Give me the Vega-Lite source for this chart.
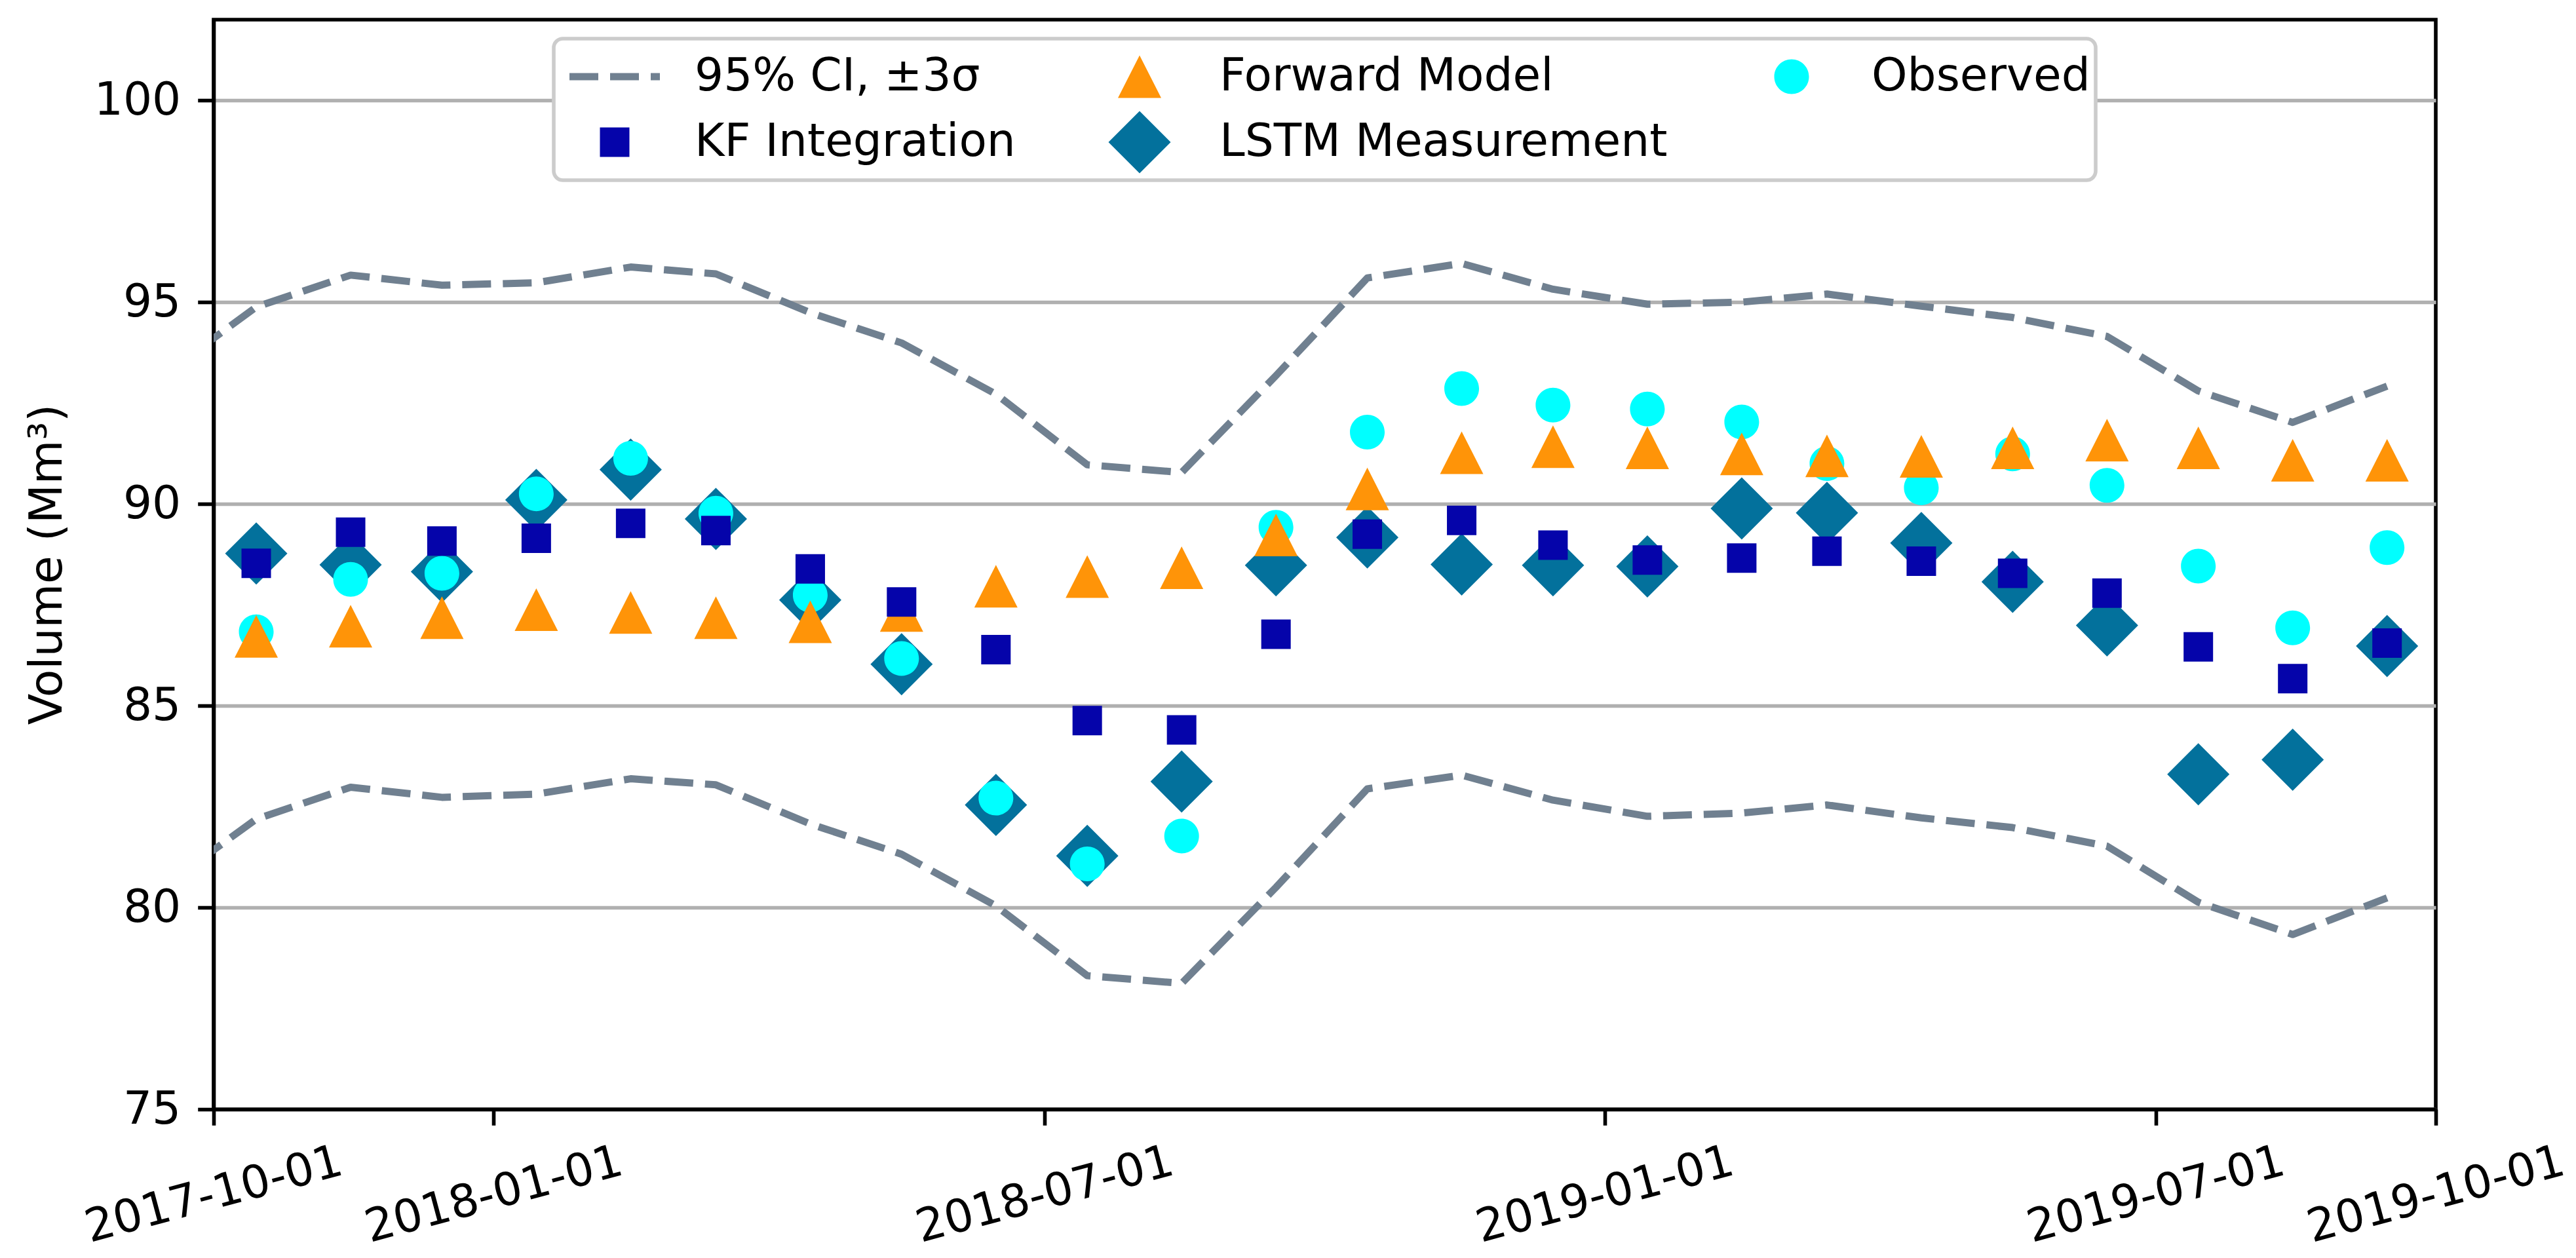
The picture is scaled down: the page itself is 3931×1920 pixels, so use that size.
{
  "$schema": "https://vega.github.io/schema/vega-lite/v6.json",
  "width": 3391,
  "height": 1663,
  "autosize": {"type": "none"},
  "padding": {"left": 326, "top": 30, "right": 214, "bottom": 227},
  "background": "white",
  "datasets": {
    "ci": [
      {"date": "2017-09-15", "bound": "upper", "v": 93.22},
      {"date": "2017-10-15", "bound": "upper", "v": 94.88},
      {"date": "2017-11-15", "bound": "upper", "v": 95.67},
      {"date": "2017-12-15", "bound": "upper", "v": 95.42},
      {"date": "2018-01-15", "bound": "upper", "v": 95.48},
      {"date": "2018-02-15", "bound": "upper", "v": 95.87},
      {"date": "2018-03-15", "bound": "upper", "v": 95.70},
      {"date": "2018-04-15", "bound": "upper", "v": 94.74},
      {"date": "2018-05-15", "bound": "upper", "v": 93.99},
      {"date": "2018-06-15", "bound": "upper", "v": 92.72},
      {"date": "2018-07-15", "bound": "upper", "v": 90.97},
      {"date": "2018-08-15", "bound": "upper", "v": 90.78},
      {"date": "2018-09-15", "bound": "upper", "v": 93.18},
      {"date": "2018-10-15", "bound": "upper", "v": 95.60},
      {"date": "2018-11-15", "bound": "upper", "v": 95.96},
      {"date": "2018-12-15", "bound": "upper", "v": 95.32},
      {"date": "2019-01-15", "bound": "upper", "v": 94.95},
      {"date": "2019-02-15", "bound": "upper", "v": 95.00},
      {"date": "2019-03-15", "bound": "upper", "v": 95.20},
      {"date": "2019-04-15", "bound": "upper", "v": 94.90},
      {"date": "2019-05-15", "bound": "upper", "v": 94.62},
      {"date": "2019-06-15", "bound": "upper", "v": 94.15},
      {"date": "2019-07-15", "bound": "upper", "v": 92.80},
      {"date": "2019-08-15", "bound": "upper", "v": 92.02},
      {"date": "2019-09-15", "bound": "upper", "v": 92.92},
      {"date": "2017-09-15", "bound": "lower", "v": 80.55},
      {"date": "2017-10-15", "bound": "lower", "v": 82.19},
      {"date": "2017-11-15", "bound": "lower", "v": 82.98},
      {"date": "2017-12-15", "bound": "lower", "v": 82.73},
      {"date": "2018-01-15", "bound": "lower", "v": 82.81},
      {"date": "2018-02-15", "bound": "lower", "v": 83.19},
      {"date": "2018-03-15", "bound": "lower", "v": 83.04},
      {"date": "2018-04-15", "bound": "lower", "v": 82.07},
      {"date": "2018-05-15", "bound": "lower", "v": 81.32},
      {"date": "2018-06-15", "bound": "lower", "v": 80.04},
      {"date": "2018-07-15", "bound": "lower", "v": 78.31},
      {"date": "2018-08-15", "bound": "lower", "v": 78.12},
      {"date": "2018-09-15", "bound": "lower", "v": 80.50},
      {"date": "2018-10-15", "bound": "lower", "v": 82.94},
      {"date": "2018-11-15", "bound": "lower", "v": 83.28},
      {"date": "2018-12-15", "bound": "lower", "v": 82.66},
      {"date": "2019-01-15", "bound": "lower", "v": 82.26},
      {"date": "2019-02-15", "bound": "lower", "v": 82.34},
      {"date": "2019-03-15", "bound": "lower", "v": 82.54},
      {"date": "2019-04-15", "bound": "lower", "v": 82.22},
      {"date": "2019-05-15", "bound": "lower", "v": 81.98},
      {"date": "2019-06-15", "bound": "lower", "v": 81.52},
      {"date": "2019-07-15", "bound": "lower", "v": 80.13},
      {"date": "2019-08-15", "bound": "lower", "v": 79.33},
      {"date": "2019-09-15", "bound": "lower", "v": 80.24}
    ],
    "pts": [
      {"date": "2017-10-15", "series": "LSTM Measurement", "v": 88.77},
      {"date": "2017-11-15", "series": "LSTM Measurement", "v": 88.49},
      {"date": "2017-12-15", "series": "LSTM Measurement", "v": 88.32},
      {"date": "2018-01-15", "series": "LSTM Measurement", "v": 90.10},
      {"date": "2018-02-15", "series": "LSTM Measurement", "v": 90.85},
      {"date": "2018-03-15", "series": "LSTM Measurement", "v": 89.63},
      {"date": "2018-04-15", "series": "LSTM Measurement", "v": 87.62},
      {"date": "2018-05-15", "series": "LSTM Measurement", "v": 86.03},
      {"date": "2018-06-15", "series": "LSTM Measurement", "v": 82.54},
      {"date": "2018-07-15", "series": "LSTM Measurement", "v": 81.28},
      {"date": "2018-08-15", "series": "LSTM Measurement", "v": 83.12},
      {"date": "2018-09-15", "series": "LSTM Measurement", "v": 88.48},
      {"date": "2018-10-15", "series": "LSTM Measurement", "v": 89.17},
      {"date": "2018-11-15", "series": "LSTM Measurement", "v": 88.50},
      {"date": "2018-12-15", "series": "LSTM Measurement", "v": 88.48},
      {"date": "2019-01-15", "series": "LSTM Measurement", "v": 88.45},
      {"date": "2019-02-15", "series": "LSTM Measurement", "v": 89.89},
      {"date": "2019-03-15", "series": "LSTM Measurement", "v": 89.78},
      {"date": "2019-04-15", "series": "LSTM Measurement", "v": 89.03},
      {"date": "2019-05-15", "series": "LSTM Measurement", "v": 88.07},
      {"date": "2019-06-15", "series": "LSTM Measurement", "v": 86.99},
      {"date": "2019-07-15", "series": "LSTM Measurement", "v": 83.30},
      {"date": "2019-08-15", "series": "LSTM Measurement", "v": 83.66},
      {"date": "2019-09-15", "series": "LSTM Measurement", "v": 86.48},
      {"date": "2017-10-15", "series": "Observed", "v": 86.83},
      {"date": "2017-11-15", "series": "Observed", "v": 88.13},
      {"date": "2017-12-15", "series": "Observed", "v": 88.28},
      {"date": "2018-01-15", "series": "Observed", "v": 90.25},
      {"date": "2018-02-15", "series": "Observed", "v": 91.13},
      {"date": "2018-03-15", "series": "Observed", "v": 89.77},
      {"date": "2018-04-15", "series": "Observed", "v": 87.74},
      {"date": "2018-05-15", "series": "Observed", "v": 86.17},
      {"date": "2018-06-15", "series": "Observed", "v": 82.71},
      {"date": "2018-07-15", "series": "Observed", "v": 81.08},
      {"date": "2018-08-15", "series": "Observed", "v": 81.77},
      {"date": "2018-09-15", "series": "Observed", "v": 89.42},
      {"date": "2018-10-15", "series": "Observed", "v": 91.78},
      {"date": "2018-11-15", "series": "Observed", "v": 92.86},
      {"date": "2018-12-15", "series": "Observed", "v": 92.45},
      {"date": "2019-01-15", "series": "Observed", "v": 92.35},
      {"date": "2019-02-15", "series": "Observed", "v": 92.03},
      {"date": "2019-03-15", "series": "Observed", "v": 91.00},
      {"date": "2019-04-15", "series": "Observed", "v": 90.40},
      {"date": "2019-05-15", "series": "Observed", "v": 91.24},
      {"date": "2019-06-15", "series": "Observed", "v": 90.46},
      {"date": "2019-07-15", "series": "Observed", "v": 88.46},
      {"date": "2019-08-15", "series": "Observed", "v": 86.93},
      {"date": "2019-09-15", "series": "Observed", "v": 88.92},
      {"date": "2017-10-15", "series": "Forward Model", "v": 86.72},
      {"date": "2017-11-15", "series": "Forward Model", "v": 86.97},
      {"date": "2017-12-15", "series": "Forward Model", "v": 87.18},
      {"date": "2018-01-15", "series": "Forward Model", "v": 87.38},
      {"date": "2018-02-15", "series": "Forward Model", "v": 87.31},
      {"date": "2018-03-15", "series": "Forward Model", "v": 87.18},
      {"date": "2018-04-15", "series": "Forward Model", "v": 87.08},
      {"date": "2018-05-15", "series": "Forward Model", "v": 87.36},
      {"date": "2018-06-15", "series": "Forward Model", "v": 87.96},
      {"date": "2018-07-15", "series": "Forward Model", "v": 88.20},
      {"date": "2018-08-15", "series": "Forward Model", "v": 88.42},
      {"date": "2018-09-15", "series": "Forward Model", "v": 89.23},
      {"date": "2018-10-15", "series": "Forward Model", "v": 90.37},
      {"date": "2018-11-15", "series": "Forward Model", "v": 91.27},
      {"date": "2018-12-15", "series": "Forward Model", "v": 91.42},
      {"date": "2019-01-15", "series": "Forward Model", "v": 91.39},
      {"date": "2019-02-15", "series": "Forward Model", "v": 91.24},
      {"date": "2019-03-15", "series": "Forward Model", "v": 91.19},
      {"date": "2019-04-15", "series": "Forward Model", "v": 91.18},
      {"date": "2019-05-15", "series": "Forward Model", "v": 91.39},
      {"date": "2019-06-15", "series": "Forward Model", "v": 91.58},
      {"date": "2019-07-15", "series": "Forward Model", "v": 91.39},
      {"date": "2019-08-15", "series": "Forward Model", "v": 91.08},
      {"date": "2019-09-15", "series": "Forward Model", "v": 91.08},
      {"date": "2017-10-15", "series": "KF Integration", "v": 88.53},
      {"date": "2017-11-15", "series": "KF Integration", "v": 89.30},
      {"date": "2017-12-15", "series": "KF Integration", "v": 89.08},
      {"date": "2018-01-15", "series": "KF Integration", "v": 89.15},
      {"date": "2018-02-15", "series": "KF Integration", "v": 89.52},
      {"date": "2018-03-15", "series": "KF Integration", "v": 89.34},
      {"date": "2018-04-15", "series": "KF Integration", "v": 88.39},
      {"date": "2018-05-15", "series": "KF Integration", "v": 87.57},
      {"date": "2018-06-15", "series": "KF Integration", "v": 86.39},
      {"date": "2018-07-15", "series": "KF Integration", "v": 84.63},
      {"date": "2018-08-15", "series": "KF Integration", "v": 84.40},
      {"date": "2018-09-15", "series": "KF Integration", "v": 86.77},
      {"date": "2018-10-15", "series": "KF Integration", "v": 89.25},
      {"date": "2018-11-15", "series": "KF Integration", "v": 89.59},
      {"date": "2018-12-15", "series": "KF Integration", "v": 88.98},
      {"date": "2019-01-15", "series": "KF Integration", "v": 88.61},
      {"date": "2019-02-15", "series": "KF Integration", "v": 88.66},
      {"date": "2019-03-15", "series": "KF Integration", "v": 88.83},
      {"date": "2019-04-15", "series": "KF Integration", "v": 88.58},
      {"date": "2019-05-15", "series": "KF Integration", "v": 88.28},
      {"date": "2019-06-15", "series": "KF Integration", "v": 87.79},
      {"date": "2019-07-15", "series": "KF Integration", "v": 86.46},
      {"date": "2019-08-15", "series": "KF Integration", "v": 85.67},
      {"date": "2019-09-15", "series": "KF Integration", "v": 86.55}
    ]
  },
  "encoding": {
    "x": {
      "field": "date",
      "type": "temporal",
      "scale": {
        "type": "utc",
        "domain": [
          {"year": 2017, "month": 10, "date": 1, "utc": true},
          {"year": 2019, "month": 10, "date": 1, "utc": true}
        ],
        "nice": false
      },
      "axis": {
        "title": null,
        "values": [
          {"year": 2017, "month": 10, "date": 1, "utc": true},
          {"year": 2018, "month": 1, "date": 1, "utc": true},
          {"year": 2018, "month": 7, "date": 1, "utc": true},
          {"year": 2019, "month": 1, "date": 1, "utc": true},
          {"year": 2019, "month": 7, "date": 1, "utc": true},
          {"year": 2019, "month": 10, "date": 1, "utc": true}
        ],
        "format": "%Y-%m-%d",
        "grid": false,
        "labelAngle": -15,
        "labelAlign": "center",
        "labelBaseline": "middle",
        "labelPadding": 106,
        "labelLimit": 3000,
        "labelOverlap": false,
        "labelFlush": false,
        "labelBound": false
      }
    },
    "y": {
      "field": "v",
      "type": "quantitative",
      "scale": {"domain": [75, 102], "nice": false, "zero": false},
      "axis": {
        "values": [75, 80, 85, 90, 95, 100],
        "grid": true,
        "gridColor": "#b0b0b0",
        "gridWidth": 5.6,
        "labelPadding": 26,
        "title": "Volume (Mm³)",
        "titleX": -233,
        "titleY": 831,
        "titleAngle": 270,
        "titleAlign": "center",
        "titleBaseline": "alphabetic"
      }
    }
  },
  "layer": [
    {
      "data": {"name": "ci"},
      "mark": {
        "type": "line",
        "clip": true,
        "color": "#708090",
        "strokeWidth": 11,
        "strokeDash": [44, 18],
        "strokeJoin": "round"
      },
      "encoding": {
        "detail": {"field": "bound", "type": "nominal"}
      }
    },
    {
      "data": {"name": "pts"},
      "mark": {
        "type": "point",
        "filled": true,
        "opacity": 1,
        "size": 10000,
        "strokeWidth": 0
      },
      "encoding": {
        "color": {
          "field": "series",
          "type": "nominal",
          "scale": {
            "domain": ["95% CI, ±3σ", "Forward Model", "Observed", "KF Integration", "LSTM Measurement"],
            "range": ["#708090", "#ff9408", "#00ffff", "#0504aa", "#03719c"]
          },
          "legend": {
            "title": null,
            "orient": "none",
            "legendX": 519,
            "legendY": 29,
            "direction": "horizontal",
            "columns": 3,
            "columnPadding": 104,
            "rowPadding": 0,
            "padding": 8,
            "symbolSize": 10000,
            "symbolOffset": 35,
            "symbolStrokeWidth": 0,
            "symbolOpacity": 1,
            "labelOffset": 72,
            "labelFont": "DejaVu Sans",
            "labelFontSize": 69.4,
            "labelColor": "black",
            "labelLimit": 3000,
            "labelBaseline": "middle",
            "fillColor": "white",
            "strokeColor": "#cccccc",
            "cornerRadius": 14,
            "encode": {
              "legend": {"update": {"strokeWidth": {"value": 5.6}}}
            }
          }
        },
        "shape": {
          "field": "series",
          "type": "nominal",
          "scale": {
            "domain": ["95% CI, ±3σ", "Forward Model", "Observed", "KF Integration", "LSTM Measurement"],
            "range": [
              "M-1.7,-1ZM0,1ZM-1.38,-0.11H-0.5V0.11H-1.38ZM-0.14,-0.11H0.74V0.11H-0.14ZM1.1,-0.11H1.38V0.11H1.1Z",
              "M-1.7,-1ZM0,1ZM0,-0.65L0.66,0.65L-0.66,0.65Z",
              "M-1.7,-1ZM0,1ZM0.53,0A0.53,0.53,0,1,1,-0.53,0A0.53,0.53,0,1,1,0.53,0Z",
              "M-1.7,-1ZM0,1ZM-0.45,-0.45H0.45V0.45H-0.45Z",
              "M-1.7,-1ZM0,1ZM0,-0.95L0.95,0L0,0.95L-0.95,0Z"
            ]
          },
          "legend": null
        }
      }
    }
  ],
  "config": {
    "font": "DejaVu Sans",
    "view": {"stroke": "black", "strokeWidth": 5.6},
    "axis": {
      "domainColor": "black",
      "domainWidth": 5.6,
      "tickColor": "black",
      "tickWidth": 5.6,
      "tickSize": 24.3,
      "labelFont": "DejaVu Sans",
      "labelFontSize": 69.4,
      "labelColor": "black",
      "titleFont": "DejaVu Sans",
      "titleFontSize": 69.4,
      "titleFontWeight": "normal",
      "titleColor": "black"
    }
  }
}
